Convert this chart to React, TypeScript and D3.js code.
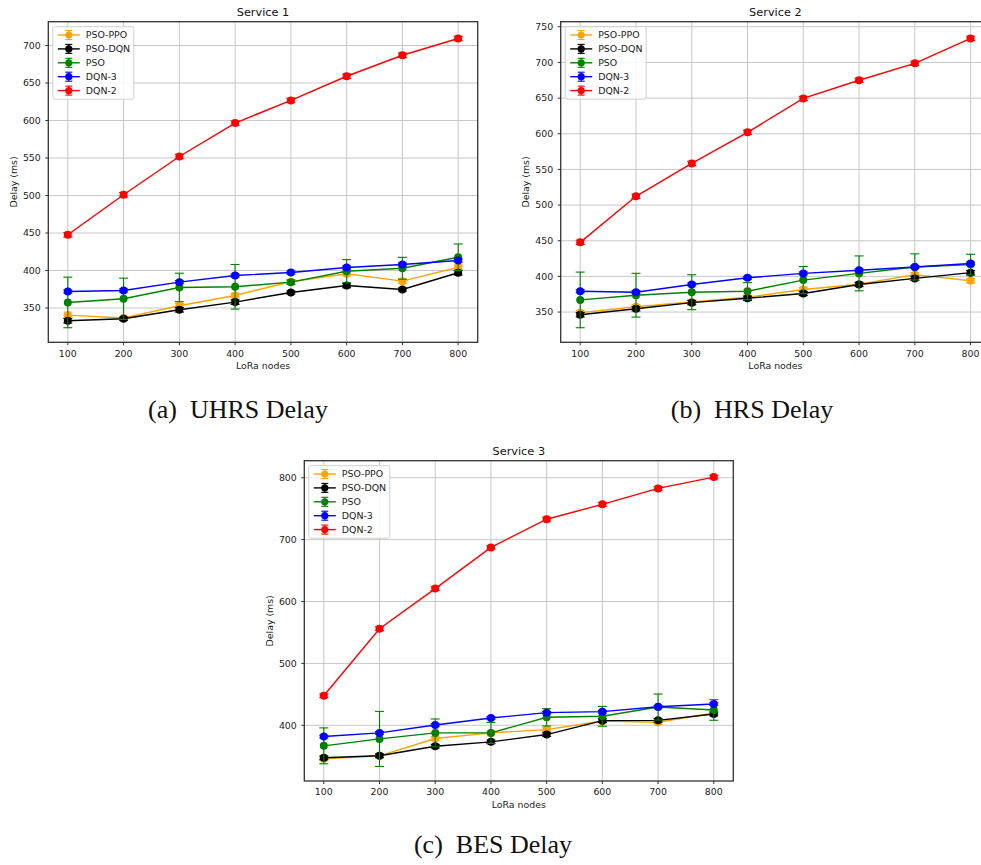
import React from 'react';
import * as d3 from 'd3';

// x values shared by every panel
const nodes = [100, 200, 300, 400, 500, 600, 700, 800];
const seriesNames = ['PSO-PPO', 'PSO-DQN', 'PSO', 'DQN-3', 'DQN-2'];
const seriesColors = ['orange', 'black', 'green', 'blue', 'red'];

// Service 1
const s1PsoPpo = [340.5, 336.6, 353, 366.7, 385, 395.6, 385.8, 404.4];
const s1PsoPpoErr = [4, 2, 3, 3, 2, 3, 3, 3];
const s1PsoDqn = [333, 335.7, 347.6, 357.9, 370.7, 380, 374.7, 397];
const s1PsoDqnErr = [3, 2, 3, 3, 2, 3, 2, 3];
const s1Pso = [357.4, 362.3, 377.4, 378.3, 384.5, 399, 403, 417.7];
const s1PsoErr = [33.7, 27.5, 19, 29.7, 3, 15.5, 14.6, 17.7];
const s1Dqn3 = [372, 373.4, 384.5, 393.3, 397.3, 404, 408, 413.3];
const s1Dqn3Err = [2, 2, 2, 2, 2, 2, 2, 2];
const s1Dqn2 = [447.6, 501, 552, 596.6, 626.8, 659, 687, 709.3];
const s1Dqn2Err = [3, 3, 3, 3, 3, 3, 3, 3];

// Service 2
const s2PsoPpo = [349, 357.5, 364, 370.8, 381.6, 389, 402.4, 393.9];
const s2PsoPpoErr = [3, 3, 3, 3, 3, 3, 3, 3];
const s2PsoDqn = [346.2, 354.7, 363.2, 369.3, 376, 388.7, 397.2, 405.2];
const s2PsoDqnErr = [3, 3, 3, 3, 3, 3, 3, 3];
const s2Pso = [367, 373.6, 377.8, 379.2, 394.8, 404.2, 413.2, 416.5];
const s2PsoErr = [39, 30.7, 24.5, 12, 19, 24.5, 18.4, 14.5];
const s2Dqn3 = [379.2, 377.8, 388.7, 398, 404.2, 408.5, 413.2, 418];
const s2Dqn3Err = [2, 2, 2, 2, 2, 2, 2, 2];
const s2Dqn2 = [447.7, 512.3, 558.4, 602, 649.5, 675, 698.8, 733.7];
const s2Dqn2Err = [3, 3, 3, 3, 3, 3, 3, 3];

// Service 3
const s3PsoPpo = [345.8, 350.7, 378.6, 387.7, 393, 407, 404.8, 419.8];
const s3PsoPpoErr = [3, 3, 3, 3, 3, 3, 3, 3];
const s3PsoDqn = [347.5, 350.7, 366.2, 373.2, 385, 407.5, 408, 418.2];
const s3PsoDqnErr = [3, 3, 3, 3, 3, 3, 3, 3];
const s3Pso = [366.8, 378, 387.7, 387.7, 412.9, 414.5, 429.5, 424.7];
const s3PsoErr = [29, 44.5, 22.5, 17, 14, 16, 21, 16.6];
const s3Dqn3 = [381.8, 387.7, 400.5, 411.8, 420.4, 422, 430, 434.3];
const s3Dqn3Err = [2, 2, 2, 2, 2, 2, 2, 2];
const s3Dqn2 = [447.7, 556, 620.9, 687.4, 733, 757, 782.8, 801];
const s3Dqn2Err = [3, 3, 3, 3, 3, 3, 3, 3];

const s1YTicks = [350, 400, 450, 500, 550, 600, 650, 700];
const s2YTicks = [350, 400, 450, 500, 550, 600, 650, 700, 750];
const s3YTicks = [400, 500, 600, 700, 800];

const FONT = 'DejaVu Sans, sans-serif';
const SERIF = 'Liberation Serif, DejaVu Serif, serif';

type Series = { name: string; color: string; values: number[]; err: number[] };

const mk = (vals: number[][], errs: number[][]): Series[] =>
  seriesNames.map((name, i) => ({ name, color: seriesColors[i], values: vals[i], err: errs[i] }));

const panels = [
  {
    title: 'Service 1', left: 48.3, top: 21.7, width: 429.4, height: 320.6, yTicks: s1YTicks,
    series: mk([s1PsoPpo, s1PsoDqn, s1Pso, s1Dqn3, s1Dqn2], [s1PsoPpoErr, s1PsoDqnErr, s1PsoErr, s1Dqn3Err, s1Dqn2Err]),
  },
  {
    title: 'Service 2', left: 560.7, top: 21.7, width: 429.4, height: 320.6, yTicks: s2YTicks,
    series: mk([s2PsoPpo, s2PsoDqn, s2Pso, s2Dqn3, s2Dqn2], [s2PsoPpoErr, s2PsoDqnErr, s2PsoErr, s2Dqn3Err, s2Dqn2Err]),
  },
  {
    title: 'Service 3', left: 304.3, top: 460.7, width: 429, height: 320.3, yTicks: s3YTicks,
    series: mk([s3PsoPpo, s3PsoDqn, s3Pso, s3Dqn3, s3Dqn2], [s3PsoPpoErr, s3PsoDqnErr, s3PsoErr, s3Dqn3Err, s3Dqn2Err]),
  },
];

const captions = [
  { text: '(a)  UHRS Delay', x: 238, y: 418 },
  { text: '(b)  HRS Delay', x: 752, y: 418 },
  { text: '(c)  BES Delay', x: 493, y: 852.5 },
];

function Panel({ title, left, top, width, height, yTicks, series }: any) {
  const xPad = (d3.max(nodes)! - d3.min(nodes)!) * 0.05;
  const x = d3.scaleLinear()
    .domain([d3.min(nodes)! - xPad, d3.max(nodes)! + xPad])
    .range([0, width]);

  const lo = d3.min(series as Series[], s => d3.min(s.values, (v, i) => v - s.err[i]))!;
  const hi = d3.max(series as Series[], s => d3.max(s.values, (v, i) => v + s.err[i]))!;
  const yPad = (hi - lo) * 0.05;
  const y = d3.scaleLinear().domain([lo - yPad, hi + yPad]).range([height, 0]);

  const line = d3.line<number>().x((d, i) => x(nodes[i])).y(d => y(d));
  const cap = 4.5;

  return (
    <g transform={`translate(${left},${top})`}>
      {/* grid */}
      {nodes.map(n => (
        <line key={'gx' + n} x1={x(n)} x2={x(n)} y1={0} y2={height} stroke="#c8c8c8" strokeWidth={1} />
      ))}
      {yTicks.map((t: number) => (
        <line key={'gy' + t} x1={0} x2={width} y1={y(t)} y2={y(t)} stroke="#c8c8c8" strokeWidth={1} />
      ))}

      {/* series */}
      {(series as Series[]).map(s => (
        <g key={s.name}>
          {s.values.map((v, i) => (
            <g key={i} stroke={s.color} strokeWidth={1.1}>
              <line x1={x(nodes[i])} x2={x(nodes[i])} y1={y(v - s.err[i])} y2={y(v + s.err[i])} />
              <line x1={x(nodes[i]) - cap} x2={x(nodes[i]) + cap} y1={y(v - s.err[i])} y2={y(v - s.err[i])} />
              <line x1={x(nodes[i]) - cap} x2={x(nodes[i]) + cap} y1={y(v + s.err[i])} y2={y(v + s.err[i])} />
            </g>
          ))}
          <path d={line(s.values) || ''} fill="none" stroke={s.color} strokeWidth={1.4} />
          {s.values.map((v, i) => (
            <circle key={'m' + i} cx={x(nodes[i])} cy={y(v)} r={4} fill={s.color} />
          ))}
        </g>
      ))}

      {/* frame */}
      <rect x={0} y={0} width={width} height={height} fill="none" stroke="#333" strokeWidth={1.3} />

      {/* x axis */}
      {nodes.map(n => (
        <g key={'tx' + n}>
          <line x1={x(n)} x2={x(n)} y1={height} y2={height + 3} stroke="#333" />
          <text x={x(n)} y={height + 14.4} textAnchor="middle" fontSize={9.4} fontFamily={FONT} fill="#222">{n}</text>
        </g>
      ))}
      <text x={width / 2} y={height + 26.8} textAnchor="middle" fontSize={9.4} fontFamily={FONT} fill="#222">LoRa nodes</text>

      {/* y axis */}
      {yTicks.map((t: number) => (
        <g key={'ty' + t}>
          <line x1={-3} x2={0} y1={y(t)} y2={y(t)} stroke="#333" />
          <text x={-7.5} y={y(t)} dy="0.35em" textAnchor="end" fontSize={9.4} fontFamily={FONT} fill="#222">{t}</text>
        </g>
      ))}
      <text transform={`translate(${-35},${height / 2}) rotate(-90)`} textAnchor="middle" dy="0.35em"
        fontSize={9.4} fontFamily={FONT} fill="#222">Delay (ms)</text>

      <text x={width / 2} y={-5.7} textAnchor="middle" fontSize={11.3} fontFamily={FONT} fill="#111">{title}</text>

      {/* legend */}
      <g transform="translate(4.5,5)">
        <rect x={0} y={0} width={81} height={72.5} rx={2} fill="white" fillOpacity={0.85} stroke="#d0d0d0" strokeWidth={1} />
        {(series as Series[]).map((s, i) => {
          const cy = 8.3 + i * 13.9;
          return (
            <g key={'lg' + s.name}>
              <g stroke={s.color} strokeWidth={1.1}>
                <line x1={5} x2={27} y1={cy} y2={cy} strokeWidth={1.4} />
                <line x1={16} x2={16} y1={cy - 4.5} y2={cy + 4.5} />
                <line x1={12.5} x2={19.5} y1={cy - 4.5} y2={cy - 4.5} />
                <line x1={12.5} x2={19.5} y1={cy + 4.5} y2={cy + 4.5} />
              </g>
              <circle cx={16} cy={cy} r={3.6} fill={s.color} />
              <text x={33} y={cy} dy="0.35em" fontSize={9.4} fontFamily={FONT} fill="#222">{s.name}</text>
            </g>
          );
        })}
      </g>
    </g>
  );
}

export default function App() {
  return (
    <svg width={981} height={865} style={{ position: 'absolute', left: 0, top: 0, background: 'white' }}>
      <rect width={981} height={865} fill="white" />
      {panels.map(p => (
        <Panel key={p.title} {...p} />
      ))}
      {captions.map(c => (
        <text key={c.text} x={c.x} y={c.y} textAnchor="middle" fontSize={26} fontFamily={SERIF}
          fill="#111" style={{ whiteSpace: 'pre' }}>{c.text}</text>
      ))}
    </svg>
  );
}
